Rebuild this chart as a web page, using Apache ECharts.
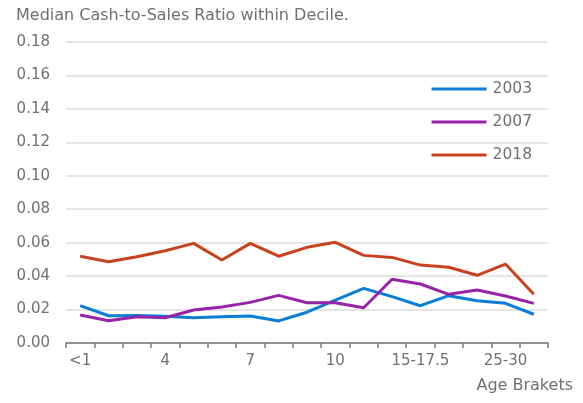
<!DOCTYPE html>
<html>
<head>
<meta charset="utf-8">
<script src="https://cdn.jsdelivr.net/npm/echarts@6/dist/echarts.min.js"></script>
<style>
	html, body { margin: 0; padding: 0; background: #fff; }
	#chart { width: 583px; height: 403px; }
</style>
</head>
<body>
<div id="chart"></div>
<script>
	// 年龄分组
	var categories = ['<1', '2', '3', '4', '5', '6', '7', '8', '9', '10', '11-12', '12-15', '15-17.5', '17.5-20', '20-25', '25-30', '>30'];
	var seriesNames = ['2003', '2007', '2018'];
	var data2003 = [0.0223, 0.0163, 0.0165, 0.0160, 0.0151, 0.0157, 0.0161, 0.0132, 0.0184, 0.0257, 0.0327, 0.0277, 0.0223, 0.0283, 0.0253, 0.0237, 0.0172];
	var data2007 = [0.0167, 0.0133, 0.0157, 0.0151, 0.0197, 0.0215, 0.0243, 0.0285, 0.0241, 0.0241, 0.0211, 0.0381, 0.0353, 0.0291, 0.0317, 0.0281, 0.0237];
	var data2018 = [0.0519, 0.0486, 0.0516, 0.0552, 0.0596, 0.0496, 0.0596, 0.0519, 0.0572, 0.0602, 0.0524, 0.0512, 0.0466, 0.0453, 0.0405, 0.0472, 0.0291];
	var colors = ['#0a7ed6', '#9623a8', '#c9421f'];

	var chart = echarts.init(document.getElementById('chart'));
	var font = '"DejaVu Sans", sans-serif';
	var textColor = '#707070';

	chart.setOption({
		color: colors,
		textStyle: { fontFamily: font },
		title: {
			text: 'Median Cash-to-Sales Ratio within Decile.',
			left: 11,
			top: 3,
			textStyle: { fontSize: 16, fontWeight: 'normal', color: textColor, fontFamily: font }
		},
		legend: {
			orient: 'vertical',
			right: 51,
			top: 81,
			padding: 0,
			itemWidth: 55,
			itemHeight: 3,
			itemGap: 17,
			icon: 'rect',
			textStyle: { fontSize: 15.5, color: textColor, fontFamily: font, padding: [0, 0, 0, 1] },
			data: seriesNames
		},
		grid: { left: 66, right: 35, top: 42, bottom: 60 },
		xAxis: {
			type: 'category',
			data: categories,
			boundaryGap: true,
			name: 'Age Brakets',
			nameLocation: 'end',
			nameGap: 0,
			nameTextStyle: { fontSize: 16, color: textColor, align: 'right', verticalAlign: 'top', padding: [35, -25, 0, 0] },
			axisLine: { lineStyle: { color: '#777', width: 1.5 } },
			axisTick: { show: true, length: 5, interval: 0, lineStyle: { color: '#777', width: 1.5 } },
			axisLabel: { interval: 2, fontSize: 15, color: textColor, margin: 11 },
			splitLine: { show: false }
		},
		yAxis: {
			type: 'value',
			min: 0,
			max: 0.18,
			interval: 0.02,
			axisLine: { show: false },
			axisTick: { show: false },
			axisLabel: {
				fontSize: 15,
				color: textColor,
				margin: 16,
				formatter: function (v) { return v.toFixed(2); }
			},
			splitLine: { lineStyle: { color: '#dcdcdc', width: 1.5 } }
		},
		series: [
			{ name: '2003', type: 'line', data: data2003, showSymbol: false, lineStyle: { width: 3 } },
			{ name: '2007', type: 'line', data: data2007, showSymbol: false, lineStyle: { width: 3 } },
			{ name: '2018', type: 'line', data: data2018, showSymbol: false, lineStyle: { width: 3 } }
		]
	});
</script>
</body>
</html>
